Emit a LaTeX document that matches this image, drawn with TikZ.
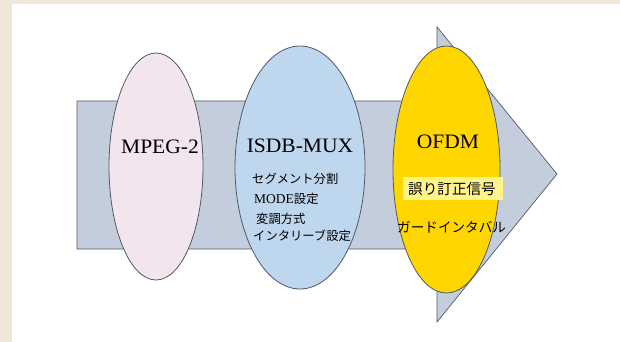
\documentclass[tikz,border=0pt]{standalone}
\usepackage{fontspec}
\setmainfont{Liberation Serif}
\newfontfamily\jp{Noto Sans CJK JP}
\usetikzlibrary{shapes.geometric}
\definecolor{beige}{HTML}{EFE8D8}
\definecolor{arrowfill}{HTML}{C4CDDB}
\definecolor{edgegray}{HTML}{505A66}
\definecolor{pinkfill}{HTML}{F3E5EE}
\definecolor{bluefill}{HTML}{BED6EE}
\definecolor{goldfill}{HTML}{FFD600}
\definecolor{hilite}{HTML}{FFF38C}
\tikzset{
  stage/.style={ellipse, draw=edgegray, line width=0.8pt, inner sep=0pt},
  title/.style={font=\fontsize{20.5}{20.5}\selectfont, anchor=base, inner sep=0pt},
  jtext/.style={font=\fontsize{12.3}{12.3}\selectfont\jp, anchor=base west, inner sep=0pt},
}
\newcommand{\wide}[1]{\scalebox{1.05}[1]{#1}}
\begin{document}
\begin{tikzpicture}[x=1pt,y=-1pt]
\useasboundingbox (0,0) rectangle (620,342);
\fill[beige] (0,0) rectangle (620,342);
\fill[white] (12,4) rectangle (620,342);
% big arrow
\filldraw[fill=arrowfill, draw=edgegray, line width=0.7pt, line join=miter]
  (77,101) -- (437,101) -- (437,27) -- (557,174) -- (437,322) -- (437,249) -- (77,249) -- cycle;
% stages
\node[stage, fill=pinkfill, minimum width=94pt, minimum height=227pt] (mpeg) at (156,166.5) {};
\node[stage, fill=bluefill, minimum width=130pt, minimum height=243pt] (isdb) at (300,167.5) {};
\node[stage, fill=goldfill, minimum width=107pt, minimum height=247pt] (ofdm) at (446.5,169.5) {};
% titles
\node[title] (tmpeg) at (160,153) {\wide{MPEG-2}};
\node[title] (tisdb) at (300,152) {\wide{ISDB-MUX}};
\node[title] (tofdm) at (448,148) {\wide{OFDM}};
% ISDB items
\node[jtext] (seg) at (252,183) {セグメント分割};
\node[jtext] (mode) at (254,203) {{\fontsize{13.5}{13.5}\selectfont\rmfamily MODE}設定};
\node[jtext] (mod) at (256,223) {変調方式};
\node[jtext] (intl) at (253,240) {インタリーブ設定};
% OFDM items
\fill[hilite] (403,177) rectangle (503,200);
\node[jtext, font=\fontsize{14.6}{14.6}\selectfont\jp] (fec) at (408,194.5) {誤り訂正信号};
\node[jtext, font=\fontsize{13.6}{13.6}\selectfont\jp] (gi) at (397,232) {ガードインタバル};
\end{tikzpicture}
\end{document}
